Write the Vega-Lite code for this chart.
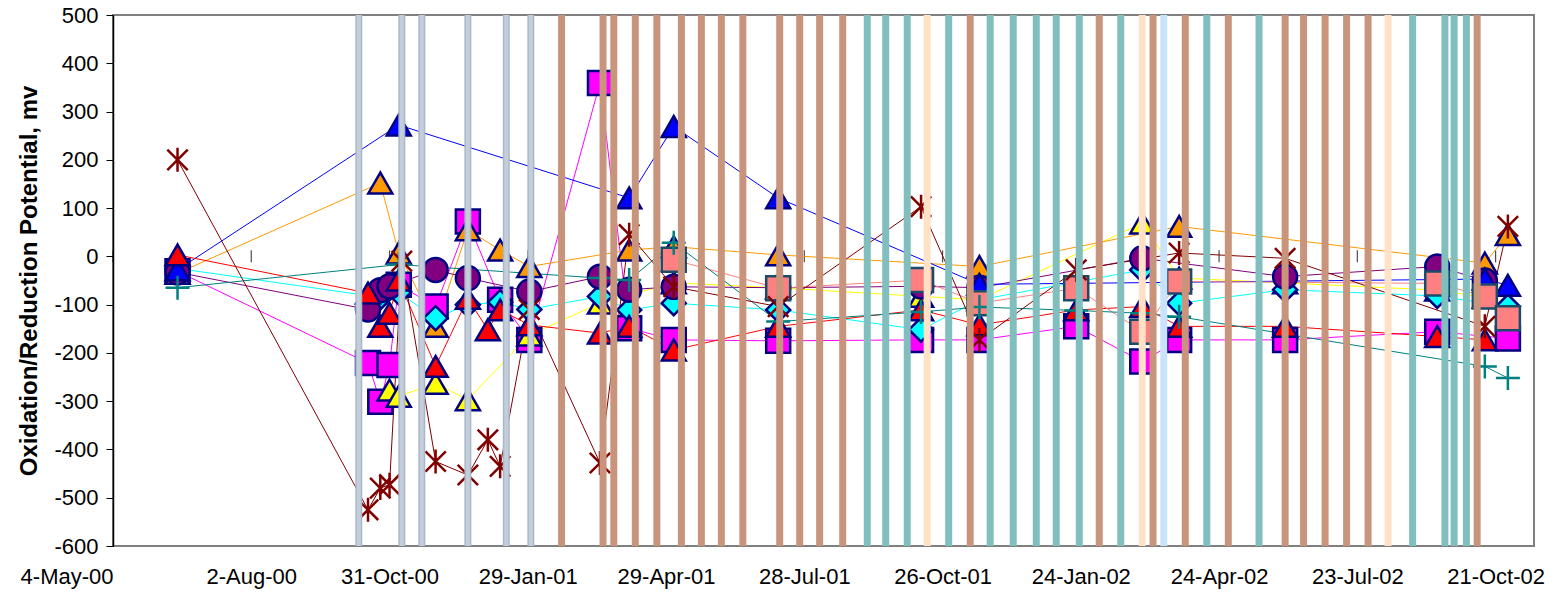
{
  "$schema": "https://vega.github.io/schema/vega-lite/v6.json",
  "width": 1421,
  "height": 531,
  "autosize": {"type": "none"},
  "padding": {"left": 113, "top": 15, "right": 24, "bottom": 51},
  "background": "white",
  "config": {
    "view": {"stroke": "#808080", "strokeWidth": 2},
    "font": "Liberation Sans",
    "axis": {"labelFont": "Liberation Sans", "titleFont": "Liberation Sans"}
  },
  "datasets": {
    "ticks90": [
      {"d": "2000-05-04"}, {"d": "2000-08-02"}, {"d": "2000-10-31"}, {"d": "2001-01-29"},
      {"d": "2001-04-29"}, {"d": "2001-07-28"}, {"d": "2001-10-26"}, {"d": "2002-01-24"},
      {"d": "2002-04-24"}, {"d": "2002-07-23"}, {"d": "2002-10-21"}
    ],
    "bands": [
      {"d": "2000-10-11", "t": "grey"}, {"d": "2000-11-08", "t": "grey"}, {"d": "2000-11-21", "t": "grey"},
      {"d": "2000-12-21", "t": "grey"}, {"d": "2001-01-15", "t": "grey"}, {"d": "2001-01-31", "t": "grey"},
      {"d": "2001-02-20", "t": "brown"}, {"d": "2001-03-19", "t": "brown"}, {"d": "2001-03-26", "t": "brown"},
      {"d": "2001-04-09", "t": "brown"}, {"d": "2001-04-23", "t": "brown"}, {"d": "2001-05-09", "t": "brown"},
      {"d": "2001-05-22", "t": "brown"}, {"d": "2001-06-04", "t": "brown"}, {"d": "2001-06-18", "t": "brown"},
      {"d": "2001-07-12", "t": "brown"}, {"d": "2001-07-25", "t": "brown"}, {"d": "2001-08-07", "t": "brown"},
      {"d": "2001-08-22", "t": "brown"},
      {"d": "2001-09-07", "t": "teal"}, {"d": "2001-09-19", "t": "teal"}, {"d": "2001-10-03", "t": "teal"},
      {"d": "2001-10-16", "t": "peach"}, {"d": "2001-10-30", "t": "teal"}, {"d": "2001-11-13", "t": "brown"},
      {"d": "2001-11-26", "t": "teal"}, {"d": "2001-12-11", "t": "teal"}, {"d": "2001-12-26", "t": "teal"},
      {"d": "2002-01-08", "t": "teal"}, {"d": "2002-01-23", "t": "teal"}, {"d": "2002-02-05", "t": "brown"},
      {"d": "2002-02-19", "t": "teal"}, {"d": "2002-03-05", "t": "peach"}, {"d": "2002-03-12", "t": "brown"},
      {"d": "2002-03-19", "t": "lightblue"}, {"d": "2002-04-02", "t": "brown"}, {"d": "2002-04-16", "t": "teal"},
      {"d": "2002-04-30", "t": "brown"}, {"d": "2002-05-20", "t": "teal"}, {"d": "2002-06-06", "t": "brown"},
      {"d": "2002-06-18", "t": "brown"}, {"d": "2002-07-02", "t": "brown"}, {"d": "2002-07-16", "t": "brown"},
      {"d": "2002-07-30", "t": "brown"}, {"d": "2002-08-12", "t": "peach"}, {"d": "2002-08-28", "t": "teal"},
      {"d": "2002-09-18", "t": "teal"}, {"d": "2002-09-24", "t": "teal"}, {"d": "2002-10-02", "t": "teal"},
      {"d": "2002-10-09", "t": "brown"}
    ],
    "pts": [
      {"s": "magenta", "d": "2000-06-15", "v": -31},
      {"s": "magenta", "d": "2000-10-17", "v": -221},
      {"s": "magenta", "d": "2000-10-25", "v": -301},
      {"s": "magenta", "d": "2000-10-31", "v": -225},
      {"s": "magenta", "d": "2000-11-06", "v": -59},
      {"s": "magenta", "d": "2000-11-30", "v": -104},
      {"s": "magenta", "d": "2000-12-21", "v": 72},
      {"s": "magenta", "d": "2001-01-11", "v": -90},
      {"s": "magenta", "d": "2001-01-30", "v": -173},
      {"s": "magenta", "d": "2001-03-17", "v": 359},
      {"s": "magenta", "d": "2001-04-05", "v": -149},
      {"s": "magenta", "d": "2001-05-04", "v": -173},
      {"s": "magenta", "d": "2001-07-11", "v": -175},
      {"s": "magenta", "d": "2001-10-12", "v": -173},
      {"s": "magenta", "d": "2001-11-19", "v": -173},
      {"s": "magenta", "d": "2002-01-21", "v": -145},
      {"s": "magenta", "d": "2002-03-05", "v": -218},
      {"s": "magenta", "d": "2002-03-29", "v": -173},
      {"s": "magenta", "d": "2002-06-06", "v": -173},
      {"s": "magenta", "d": "2002-09-13", "v": -156},
      {"s": "magenta", "d": "2002-10-29", "v": -170},

      {"s": "yellow", "d": "2000-10-31", "v": -277},
      {"s": "yellow", "d": "2000-11-06", "v": -290},
      {"s": "yellow", "d": "2000-11-30", "v": -263},
      {"s": "yellow", "d": "2000-12-21", "v": -297},
      {"s": "yellow", "d": "2001-01-30", "v": -163},
      {"s": "yellow", "d": "2001-03-17", "v": -97},
      {"s": "yellow", "d": "2001-05-04", "v": -55},
      {"s": "yellow", "d": "2001-07-11", "v": -65},
      {"s": "yellow", "d": "2001-10-12", "v": -83},
      {"s": "yellow", "d": "2001-11-19", "v": -90},
      {"s": "yellow", "d": "2002-03-05", "v": 69},
      {"s": "yellow", "d": "2002-03-29", "v": -45},
      {"s": "yellow", "d": "2002-06-06", "v": -55},
      {"s": "yellow", "d": "2002-09-13", "v": -70},
      {"s": "yellow", "d": "2002-10-14", "v": -85},

      {"s": "orange", "d": "2000-06-15", "v": -35},
      {"s": "orange", "d": "2000-10-25", "v": 152},
      {"s": "orange", "d": "2000-11-06", "v": 7},
      {"s": "orange", "d": "2000-11-30", "v": -145},
      {"s": "orange", "d": "2000-12-21", "v": 55},
      {"s": "orange", "d": "2001-01-11", "v": 13},
      {"s": "orange", "d": "2001-01-30", "v": -21},
      {"s": "orange", "d": "2001-04-05", "v": 13},
      {"s": "orange", "d": "2001-05-04", "v": 20},
      {"s": "orange", "d": "2001-07-11", "v": 3},
      {"s": "orange", "d": "2001-11-19", "v": -21},
      {"s": "orange", "d": "2002-03-29", "v": 62},
      {"s": "orange", "d": "2002-10-14", "v": -14},
      {"s": "orange", "d": "2002-10-29", "v": 45},

      {"s": "cyan", "d": "2000-06-15", "v": -25},
      {"s": "cyan", "d": "2000-10-25", "v": -85},
      {"s": "cyan", "d": "2000-11-06", "v": -75},
      {"s": "cyan", "d": "2000-11-30", "v": -128},
      {"s": "cyan", "d": "2000-12-21", "v": -100},
      {"s": "cyan", "d": "2001-01-11", "v": -95},
      {"s": "cyan", "d": "2001-01-30", "v": -110},
      {"s": "cyan", "d": "2001-03-17", "v": -83},
      {"s": "cyan", "d": "2001-04-05", "v": -111},
      {"s": "cyan", "d": "2001-05-04", "v": -97},
      {"s": "cyan", "d": "2001-07-11", "v": -111},
      {"s": "cyan", "d": "2001-10-12", "v": -152},
      {"s": "cyan", "d": "2001-11-19", "v": -90},
      {"s": "cyan", "d": "2002-03-05", "v": -28},
      {"s": "cyan", "d": "2002-03-29", "v": -97},
      {"s": "cyan", "d": "2002-06-06", "v": -69},
      {"s": "cyan", "d": "2002-09-13", "v": -82},
      {"s": "cyan", "d": "2002-10-29", "v": -104},

      {"s": "purple", "d": "2000-06-15", "v": -33},
      {"s": "purple", "d": "2000-10-17", "v": -110},
      {"s": "purple", "d": "2000-10-25", "v": -70},
      {"s": "purple", "d": "2000-10-31", "v": -62},
      {"s": "purple", "d": "2000-11-30", "v": -28},
      {"s": "purple", "d": "2000-12-21", "v": -45},
      {"s": "purple", "d": "2001-01-30", "v": -73},
      {"s": "purple", "d": "2001-03-17", "v": -42},
      {"s": "purple", "d": "2001-04-05", "v": -69},
      {"s": "purple", "d": "2001-05-04", "v": -63},
      {"s": "purple", "d": "2001-07-11", "v": -65},
      {"s": "purple", "d": "2001-10-12", "v": -62},
      {"s": "purple", "d": "2001-11-19", "v": -65},
      {"s": "purple", "d": "2002-03-05", "v": -4},
      {"s": "purple", "d": "2002-06-06", "v": -42},
      {"s": "purple", "d": "2002-09-13", "v": -21},
      {"s": "purple", "d": "2002-10-14", "v": -50},

      {"s": "blue", "d": "2000-06-15", "v": -28},
      {"s": "blue", "d": "2000-11-06", "v": 272},
      {"s": "blue", "d": "2001-04-05", "v": 121},
      {"s": "blue", "d": "2001-05-04", "v": 269},
      {"s": "blue", "d": "2001-07-11", "v": 121},
      {"s": "blue", "d": "2001-11-19", "v": -58},
      {"s": "blue", "d": "2002-10-14", "v": -47},
      {"s": "blue", "d": "2002-10-29", "v": -60},

      {"s": "red", "d": "2000-06-15", "v": 3},
      {"s": "red", "d": "2000-10-17", "v": -76},
      {"s": "red", "d": "2000-10-25", "v": -145},
      {"s": "red", "d": "2000-10-31", "v": -118},
      {"s": "red", "d": "2000-11-06", "v": -49},
      {"s": "red", "d": "2000-11-30", "v": -228},
      {"s": "red", "d": "2000-12-21", "v": -87},
      {"s": "red", "d": "2001-01-03", "v": -152},
      {"s": "red", "d": "2001-01-11", "v": -111},
      {"s": "red", "d": "2001-01-30", "v": -142},
      {"s": "red", "d": "2001-03-17", "v": -159},
      {"s": "red", "d": "2001-04-05", "v": -145},
      {"s": "red", "d": "2001-05-04", "v": -194},
      {"s": "red", "d": "2001-07-11", "v": -145},
      {"s": "red", "d": "2001-10-12", "v": -111},
      {"s": "red", "d": "2001-11-19", "v": -142},
      {"s": "red", "d": "2002-01-21", "v": -111},
      {"s": "red", "d": "2002-03-05", "v": -104},
      {"s": "red", "d": "2002-03-29", "v": -145},
      {"s": "red", "d": "2002-06-06", "v": -145},
      {"s": "red", "d": "2002-09-13", "v": -166},
      {"s": "red", "d": "2002-10-14", "v": -173},

      {"s": "salmon", "d": "2001-05-04", "v": -7},
      {"s": "salmon", "d": "2001-07-11", "v": -66},
      {"s": "salmon", "d": "2001-10-12", "v": -49},
      {"s": "salmon", "d": "2001-11-19", "v": -97},
      {"s": "salmon", "d": "2002-01-21", "v": -66},
      {"s": "salmon", "d": "2002-03-05", "v": -156},
      {"s": "salmon", "d": "2002-03-29", "v": -52},
      {"s": "salmon", "d": "2002-09-13", "v": -56},
      {"s": "salmon", "d": "2002-10-14", "v": -83},
      {"s": "salmon", "d": "2002-10-29", "v": -128},

      {"s": "teal", "d": "2000-06-15", "v": -65},
      {"s": "teal", "d": "2000-11-06", "v": -17},
      {"s": "teal", "d": "2001-03-17", "v": -45},
      {"s": "teal", "d": "2001-04-05", "v": -49},
      {"s": "teal", "d": "2001-05-04", "v": 28},
      {"s": "teal", "d": "2001-07-11", "v": -135},
      {"s": "teal", "d": "2001-10-12", "v": -115},
      {"s": "teal", "d": "2001-11-19", "v": -105},
      {"s": "teal", "d": "2002-01-21", "v": -112},
      {"s": "teal", "d": "2002-03-05", "v": -118},
      {"s": "teal", "d": "2002-03-29", "v": -125},
      {"s": "teal", "d": "2002-10-14", "v": -228},
      {"s": "teal", "d": "2002-10-29", "v": -252},

      {"s": "darkred", "d": "2000-06-15", "v": 200},
      {"s": "darkred", "d": "2000-10-17", "v": -525},
      {"s": "darkred", "d": "2000-10-25", "v": -480},
      {"s": "darkred", "d": "2000-10-31", "v": -473},
      {"s": "darkred", "d": "2000-11-08", "v": -10},
      {"s": "darkred", "d": "2000-11-30", "v": -425},
      {"s": "darkred", "d": "2000-12-21", "v": -453},
      {"s": "darkred", "d": "2001-01-03", "v": -380},
      {"s": "darkred", "d": "2001-01-11", "v": -435},
      {"s": "darkred", "d": "2001-01-30", "v": -110},
      {"s": "darkred", "d": "2001-03-17", "v": -428},
      {"s": "darkred", "d": "2001-04-05", "v": 45},
      {"s": "darkred", "d": "2001-05-04", "v": -63},
      {"s": "darkred", "d": "2001-07-11", "v": -104},
      {"s": "darkred", "d": "2001-10-12", "v": 103},
      {"s": "darkred", "d": "2001-11-19", "v": -173},
      {"s": "darkred", "d": "2002-01-21", "v": -28},
      {"s": "darkred", "d": "2002-03-29", "v": 7},
      {"s": "darkred", "d": "2002-06-06", "v": -4},
      {"s": "darkred", "d": "2002-10-14", "v": -145},
      {"s": "darkred", "d": "2002-10-29", "v": 62}
    ]
  },
  "layer": [
    {
      "mark": {"type": "rule", "color": "black", "strokeWidth": 1},
      "encoding": {"y": {"datum": 0, "type": "quantitative"}}
    },
    {
      "data": {"name": "ticks90"},
      "mark": {"type": "tick", "orient": "vertical", "size": 12, "thickness": 1.2, "color": "black"},
      "encoding": {
        "x": {
          "field": "d", "type": "temporal",
          "scale": {"type": "utc", "domain": [{"year": 2000, "month": 5, "date": 4, "utc": true}, {"year": 2002, "month": 11, "date": 15, "utc": true}]},
          "axis": {
            "values": [
              {"year": 2000, "month": 5, "date": 4, "utc": true},
              {"year": 2000, "month": 8, "date": 2, "utc": true},
              {"year": 2000, "month": 10, "date": 31, "utc": true},
              {"year": 2001, "month": 1, "date": 29, "utc": true},
              {"year": 2001, "month": 4, "date": 29, "utc": true},
              {"year": 2001, "month": 7, "date": 28, "utc": true},
              {"year": 2001, "month": 10, "date": 26, "utc": true},
              {"year": 2002, "month": 1, "date": 24, "utc": true},
              {"year": 2002, "month": 4, "date": 24, "utc": true},
              {"year": 2002, "month": 7, "date": 23, "utc": true},
              {"year": 2002, "month": 10, "date": 21, "utc": true}
            ],
            "labelExpr": "utcFormat(datum.value, '%-d-%b-%y')",
            "labelAlign": {"condition": {"test": "datum.value < 957500000000", "value": "right"}, "value": "center"},
            "title": null,
            "grid": false,
            "ticks": false,
            "domain": false,
            "labelFontSize": 22,
            "labelColor": "black",
            "labelPadding": 20,
            "labelOverlap": false,
            "labelFlush": false,
            "labelBound": false
          }
        },
        "y": {
          "datum": 0, "type": "quantitative",
          "scale": {"domain": [-600, 500], "nice": false, "zero": false},
          "axis": {
            "values": [-600, -500, -400, -300, -200, -100, 0, 100, 200, 300, 400, 500],
            "labelExpr": "datum.value < 0 ? '-' + abs(datum.value) : '' + datum.value",
            "title": "Oxidation/Reduction Potential, mv",
            "titleFontSize": 24,
            "titleFontWeight": "bold",
            "titleColor": "black",
            "titlePadding": 12,
            "labelFontSize": 22,
            "labelColor": "black",
            "labelPadding": 8,
            "tickColor": "black",
            "tickSize": 7,
            "domainColor": "black",
            "domainWidth": 1.5,
            "grid": false
          }
        }
      }
    },
    {
      "data": {"name": "pts"},
      "mark": {"type": "line", "strokeWidth": 1, "clip": true},
      "encoding": {
        "x": {"field": "d", "type": "temporal"},
        "y": {"field": "v", "type": "quantitative"},
        "color": {
          "field": "s", "type": "nominal", "legend": null,
          "scale": {
            "domain": ["magenta", "yellow", "orange", "cyan", "purple", "blue", "red", "salmon", "teal", "darkred"],
            "range": ["#FF00FF", "#FFFF00", "#FF9900", "#00FFFF", "#800080", "#0000FF", "#FF0000", "#FF8080", "#008080", "#800000"]
          }
        },
        "detail": {"field": "s"}
      }
    },
    {
      "data": {"name": "pts"},
      "mark": {"type": "point", "filled": true, "size": 576, "strokeWidth": 2.5, "opacity": 1},
      "encoding": {
        "x": {"field": "d", "type": "temporal"},
        "y": {"field": "v", "type": "quantitative"},
        "fill": {
          "field": "s", "type": "nominal", "legend": null,
          "scale": {
            "domain": ["magenta", "yellow", "orange", "cyan", "purple", "blue", "red", "salmon", "teal", "darkred"],
            "range": ["#FF00FF", "#FFFF00", "#FF9900", "#00FFFF", "#800080", "#0000FF", "#FF0000", "#FF8080", "transparent", "transparent"]
          }
        },
        "stroke": {
          "field": "s", "type": "nominal", "legend": null,
          "scale": {
            "domain": ["magenta", "yellow", "orange", "cyan", "purple", "blue", "red", "salmon", "teal", "darkred"],
            "range": ["#000080", "#000080", "#000080", "#000080", "#000080", "#000080", "#000080", "#1B4B6B", "#008080", "#800000"]
          }
        },
        "shape": {
          "field": "s", "type": "nominal", "legend": null,
          "scale": {
            "domain": ["magenta", "yellow", "orange", "cyan", "purple", "blue", "red", "salmon", "teal", "darkred"],
            "range": ["square", "triangle-up", "triangle-up", "diamond", "circle", "triangle-up", "triangle-up", "square", "M-1,0L1,0M0,-1L0,1", "M-0.85,-0.85L0.85,0.85M-0.85,0.85L0.85,-0.85M0,-1L0,1"]
          }
        }
      }
    },
    {
      "data": {"name": "bands"},
      "mark": {"type": "rule", "strokeWidth": 7},
      "encoding": {
        "x": {"field": "d", "type": "temporal"},
        "color": {
          "field": "t", "type": "nominal", "legend": null,
          "scale": {
            "domain": ["grey", "brown", "teal", "peach", "lightblue"],
            "range": ["#A9B8C8", "#C8957C", "#80BFBD", "#FFE2C6", "#CAE3FD"]
          }
        }
      }
    },
    {
      "data": {"name": "bands"},
      "transform": [{"filter": "datum.t == 'grey'"}],
      "mark": {"type": "rule", "strokeWidth": 4, "color": "#C3CEDA"},
      "encoding": {
        "x": {"field": "d", "type": "temporal"}
      }
    }
  ],
  "resolve": {"scale": {"color": "independent"}}
}
